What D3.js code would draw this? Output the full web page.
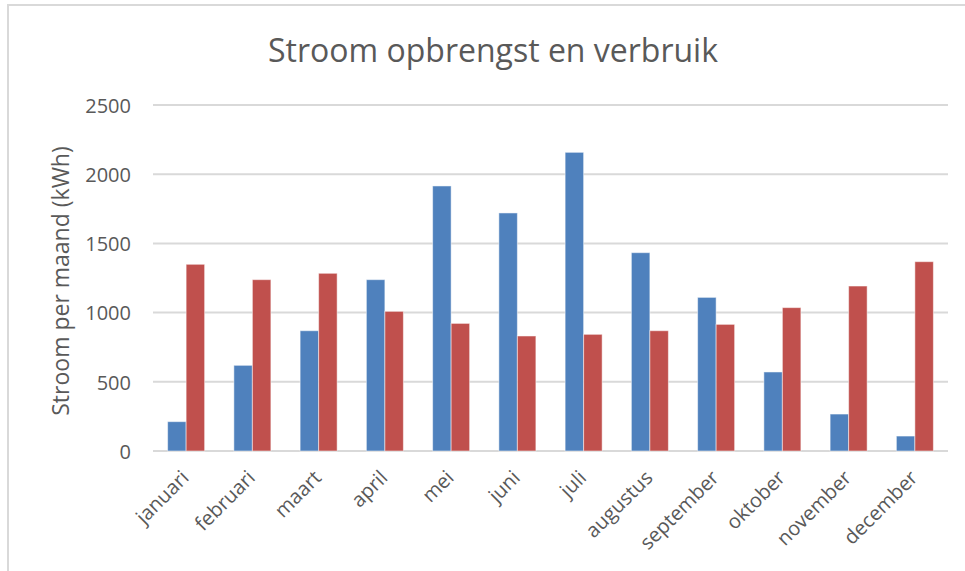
<!DOCTYPE html>
<html>
<head>
<meta charset="utf-8">
<script src="https://cdn.jsdelivr.net/npm/d3@7"></script>
<style>
  body { margin: 0; background: #fff; }
  text { font-family: "Open Sans", sans-serif; fill: #595959; }
</style>
</head>
<body>
<script>
// maanden en waarden (kWh)
var months = ["januari", "februari", "maart", "april", "mei", "juni",
              "juli", "augustus", "september", "oktober", "november", "december"];
var opbrengst = [212, 619, 869, 1238, 1915, 1720, 2158, 1433, 1110, 571, 267, 108];
var verbruik = [1349, 1238, 1284, 1009, 922, 831, 843, 869, 915, 1036, 1192, 1368];
var yTicks = [0, 500, 1000, 1500, 2000, 2500];
var series = ["opbrengst", "verbruik"];
var colors = ["#4f81bd", "#c0504d"];

var w = 965, h = 571;
var plotL = 153, plotR = 948, plotT = 105, plotB = 451;

var svg = d3.select("body").append("svg")
    .attr("width", w)
    .attr("height", h);

// kader
svg.append("rect")
    .attr("x", 8).attr("y", 5)
    .attr("width", w + 10).attr("height", h + 10)
    .attr("fill", "none")
    .attr("stroke", "#d9d9d9")
    .attr("stroke-width", 2);

var x = d3.scaleBand().domain(months).range([plotL, plotR]).padding(0);
var x1 = d3.scaleBand().domain(series).range([0, x.bandwidth()])
    .paddingInner(0).paddingOuter(0.79);
var y = d3.scaleLinear().domain([0, 2500]).range([plotB, plotT]);

// rasterlijnen
svg.append("g").selectAll("line").data(yTicks).enter().append("line")
    .attr("x1", plotL).attr("x2", plotR)
    .attr("y1", function(d) { return y(d); })
    .attr("y2", function(d) { return y(d); })
    .attr("stroke", "#d9d9d9")
    .attr("stroke-width", 2);

// y-as
var yAxis = svg.append("g")
    .attr("transform", "translate(" + (plotL - 22) + ",0)")
    .call(d3.axisLeft(y).tickValues(yTicks).tickFormat(d3.format("d")).tickSize(0).tickPadding(0));
yAxis.select(".domain").remove();
yAxis.selectAll("text")
    .style("font-size", "20px")
    .style("font-family", "'Open Sans', sans-serif")
    .attr("fill", "#595959")
    .attr("dy", "0.36em");

// staven
var rows = months.map(function(m, i) {
    return {month: m, values: [opbrengst[i], verbruik[i]]};
});
var groups = svg.append("g").selectAll("g").data(rows).enter().append("g")
    .attr("transform", function(d) { return "translate(" + x(d.month) + ",0)"; });
groups.selectAll("rect").data(function(d) {
    return d.values.map(function(v, j) { return {key: series[j], value: v, j: j}; });
}).enter().append("rect")
    .attr("x", function(d) { return x1(d.key); })
    .attr("width", x1.bandwidth())
    .attr("y", function(d) { return y(d.value); })
    .attr("height", function(d) { return plotB - y(d.value); })
    .attr("fill", function(d) { return colors[d.j]; })
    .attr("stroke", "#ffffff")
    .attr("stroke-opacity", 0.5)
    .attr("stroke-width", 1);

// maandlabels
svg.append("g").selectAll("text").data(months).enter().append("text")
    .attr("transform", function(d) {
        return "translate(" + (x(d) + x.bandwidth() / 2 + 4) + "," + (plotB + 28) + ") rotate(-45)";
    })
    .attr("text-anchor", "end")
    .style("font-size", "20px")
    .text(function(d) { return d; });

// titel
svg.append("text")
    .attr("x", 493).attr("y", 62)
    .attr("text-anchor", "middle")
    .style("font-size", "32px")
    .text("Stroom opbrengst en verbruik");

// y-astitel
svg.append("text")
    .attr("transform", "translate(69," + ((plotT + plotB) / 2 + 3) + ") rotate(-90)")
    .attr("text-anchor", "middle")
    .style("font-size", "23px")
    .text("Stroom per maand (kWh)");
</script>
</body>
</html>
